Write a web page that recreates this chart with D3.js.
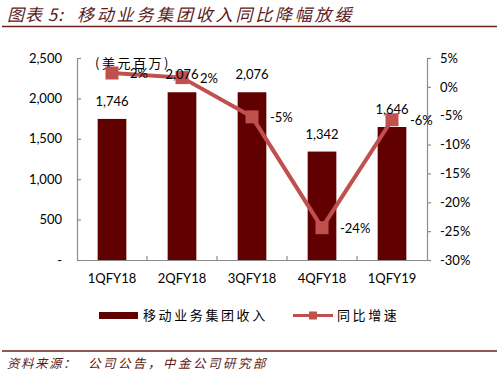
<!doctype html>
<html lang="zh">
<head>
<meta charset="utf-8">
<script src="https://d3js.org/d3.v7.min.js"></script>
<style>
  body { margin: 0; background: #fff; }
  svg text { font-family: Lato, "Noto Sans CJK SC", sans-serif; }
  .cjk { font-family: "Noto Sans CJK SC", sans-serif; }
</style>
</head>
<body>
<script>

// data
var quarters = ["1QFY18", "2QFY18", "3QFY18", "4QFY18", "1QFY19"];
var revenue = [1746, 2076, 2076, 1342, 1646];           // 美元百万
var growth = [2.4, 1.6, -5.2, -24.4, -5.7];             // 同比增速 %
var growthLabels = ["2%", "2%", "-5%", "-24%", "-6%"];
var leftTicks = [0, 500, 1000, 1500, 2000, 2500];
var rightTicks = [5, 0, -5, -10, -15, -20, -25, -30];

var W = 497, H = 375;
var plot = {left: 77, right: 427, top: 58, bottom: 260};

var barColor = "#600000";
var lineColor = "#c0504d";
var axisColor = "#8c8c8c";
var titleColor = "#5c1a1a";

var svg = d3.select("body").append("svg")
  .attr("width", W)
  .attr("height", H);

// title + rules
svg.append("text")
  .attr("class", "cjk")
  .attr("x", 7)
  .attr("y", 21)
  .attr("font-size", 17)
  .attr("font-style", "italic")
  .attr("letter-spacing", 1)
  .attr("fill", titleColor)
  .text("图表 5:");

svg.append("text")
  .attr("class", "cjk")
  .attr("x", 77)
  .attr("y", 21)
  .attr("font-size", 17)
  .attr("font-style", "italic")
  .attr("letter-spacing", 2.8)
  .attr("fill", titleColor)
  .text("移动业务集团收入同比降幅放缓");

svg.append("line")
  .attr("x1", 2).attr("x2", 497)
  .attr("y1", 26.5).attr("y2", 26.5)
  .attr("stroke", "#6b1f1f").attr("stroke-width", 1.3);

svg.append("line")
  .attr("x1", 2).attr("x2", 497)
  .attr("y1", 351).attr("y2", 351)
  .attr("stroke", "#6b1f1f").attr("stroke-width", 1.3);

svg.append("text")
  .attr("class", "cjk")
  .attr("x", 7)
  .attr("y", 368)
  .attr("font-size", 12.5)
  .attr("font-style", "italic")
  .attr("letter-spacing", 1.5)
  .attr("fill", titleColor)
  .text("资料来源：");

svg.append("text")
  .attr("class", "cjk")
  .attr("x", 88)
  .attr("y", 368)
  .attr("font-size", 12.5)
  .attr("font-style", "italic")
  .attr("letter-spacing", 2.5)
  .attr("fill", titleColor)
  .text("公司公告，中金公司研究部");

// scales
var x = d3.scaleBand().domain(quarters).range([plot.left, plot.right]).paddingInner(0.59).paddingOuter(0.295);
var band = d3.scaleBand().domain(quarters).range([plot.left, plot.right]);
var yL = d3.scaleLinear().domain([0, 2500]).range([plot.bottom, plot.top]);
var yR = d3.scaleLinear().domain([-30, 5]).range([plot.bottom, plot.top]);

// bars
svg.append("g")
  .selectAll("rect")
  .data(revenue)
  .enter()
  .append("rect")
  .attr("x", function(d, i) { return x(quarters[i]); })
  .attr("y", function(d) { return yL(d); })
  .attr("width", x.bandwidth())
  .attr("height", function(d) { return yL(0) - yL(d); })
  .attr("fill", barColor);

// left axis
var leftAxis = svg.append("g")
  .attr("transform", "translate(" + plot.left + ",0)")
  .call(d3.axisLeft(yL).tickValues(leftTicks).tickSizeInner(-4).tickSizeOuter(0)
    .tickFormat(function(d) { return d === 0 ? "-" : d3.format(",")(d); }));
leftAxis.selectAll("text").attr("x", -15).attr("font-size", 13).attr("fill", "#000");

// right axis
var rightAxis = svg.append("g")
  .attr("transform", "translate(" + plot.right + ",0)")
  .call(d3.axisRight(yR).tickValues(rightTicks).tickSizeInner(4).tickSizeOuter(0)
    .tickFormat(function(d) { return d + "%"; }));
rightAxis.selectAll("text").attr("x", 13).attr("font-size", 13).attr("fill", "#000");

// x axis with ticks between categories
var bottomAxis = svg.append("g")
  .attr("transform", "translate(0," + plot.bottom + ")")
  .call(d3.axisBottom(band).tickSizeInner(0).tickSizeOuter(0));
bottomAxis.selectAll("text").attr("y", 14).attr("font-size", 13).attr("fill", "#000");
bottomAxis.selectAll(".between")
  .data(quarters.slice(1))
  .enter()
  .append("line")
  .attr("class", "between")
  .attr("x1", function(d) { return band(d); })
  .attr("x2", function(d) { return band(d); })
  .attr("y1", 0).attr("y2", -4);

[leftAxis, rightAxis, bottomAxis].forEach(function(a) {
  a.selectAll("path, line").attr("stroke", axisColor).attr("stroke-width", 1.2);
});

// unit label
svg.append("text")
  .attr("class", "cjk")
  .attr("x", 95)
  .attr("y", 68)
  .attr("font-size", 13)
  .attr("letter-spacing", 2.5)
  .attr("fill", "#000")
  .text("(美元百万)");

// growth line
var cx = function(d, i) { return band(quarters[i]) + band.bandwidth() / 2; };

svg.append("path")
  .datum(growth)
  .attr("fill", "none")
  .attr("stroke", lineColor)
  .attr("stroke-width", 4)
  .attr("d", d3.line().x(cx).y(function(d) { return yR(d); }));

svg.append("g")
  .selectAll("rect")
  .data(growth)
  .enter()
  .append("rect")
  .attr("x", function(d, i) { return cx(d, i) - 6.5; })
  .attr("y", function(d) { return yR(d) - 6.5; })
  .attr("width", 13)
  .attr("height", 13)
  .attr("fill", lineColor);

// bar value labels
svg.append("g")
  .selectAll("text")
  .data(revenue)
  .enter()
  .append("text")
  .attr("x", function(d, i) { return cx(d, i); })
  .attr("y", function(d) { return yL(d) - 13; })
  .attr("text-anchor", "middle")
  .attr("font-size", 13)
  .attr("fill", "#000")
  .text(function(d) { return d3.format(",")(d); });

// growth labels
svg.append("g")
  .selectAll("text")
  .data(growth)
  .enter()
  .append("text")
  .attr("x", function(d, i) { return cx(d, i) + 18; })
  .attr("y", function(d) { return yR(d) + 5; })
  .attr("font-size", 13)
  .attr("fill", "#000")
  .text(function(d, i) { return growthLabels[i]; });

// legend
var legend = svg.append("g");
legend.append("rect")
  .attr("x", 99).attr("y", 312)
  .attr("width", 39).attr("height", 7)
  .attr("fill", barColor);
legend.append("text")
  .attr("class", "cjk")
  .attr("x", 143).attr("y", 320)
  .attr("font-size", 13)
  .attr("letter-spacing", 2.6)
  .attr("fill", "#000")
  .text("移动业务集团收入");
legend.append("line")
  .attr("x1", 293).attr("x2", 333)
  .attr("y1", 315.5).attr("y2", 315.5)
  .attr("stroke", lineColor).attr("stroke-width", 3);
legend.append("rect")
  .attr("x", 309).attr("y", 311.5)
  .attr("width", 8).attr("height", 8)
  .attr("fill", lineColor);
legend.append("text")
  .attr("class", "cjk")
  .attr("x", 337).attr("y", 320)
  .attr("font-size", 13)
  .attr("letter-spacing", 2.6)
  .attr("fill", "#000")
  .text("同比增速");

</script>
</body>
</html>
